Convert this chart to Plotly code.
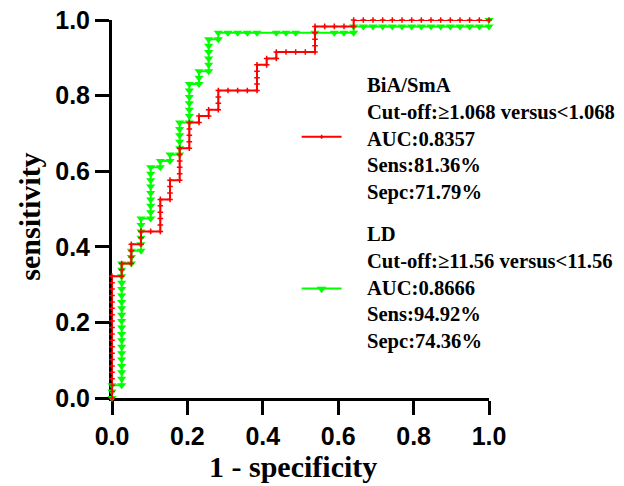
import plotly.graph_objects as go

# ---- data (counts) ----
N_NEG = 39   # negatives (x steps)
N_POS = 59   # positives (y steps)

red_fp = [0, 0, 0, 0, 0, 0, 0, 0, 0, 0, 0, 0, 0, 0, 0, 0, 0, 0, 0, 0,
          1, 1, 1, 2, 2, 2, 2, 3, 3, 3, 4,
          5, 5, 5, 5, 5, 5, 6, 6, 6, 6, 7, 7, 7, 7, 7, 7,
          8, 8, 8, 8, 8, 9, 9, 10, 10, 11, 11, 11, 11,
          12, 13, 14, 15, 15, 15, 15, 15, 16, 16, 17, 17,
          18, 19, 20, 21, 21, 21, 21, 21, 22, 23, 24, 25, 25,
          26, 27, 28, 29, 30, 31, 32, 33, 34, 35, 36, 37, 38, 39]
red_tp = [0, 1, 2, 3, 4, 5, 6, 7, 8, 9, 10, 11, 12, 13, 14, 15, 16, 17, 18, 19,
          19, 20, 21, 21, 22, 23, 24, 24, 25, 26, 26,
          26, 27, 28, 29, 30, 31, 31, 32, 33, 34, 34, 35, 36, 37, 38, 39,
          39, 40, 41, 42, 43, 43, 44, 44, 45, 45, 46, 47, 48,
          48, 48, 48, 48, 49, 50, 51, 52, 52, 53, 53, 54,
          54, 54, 54, 54, 55, 56, 57, 58, 58, 58, 58, 58, 59,
          59, 59, 59, 59, 59, 59, 59, 59, 59, 59, 59, 59, 59, 59]

green_fp = [0, 0, 0,
            1, 1, 1, 1, 1, 1, 1, 1, 1, 1, 1, 1, 1, 1, 1, 1, 1, 1, 1, 1,
            2, 2, 2, 3, 3, 3, 3, 3, 3,
            4, 4, 4, 4, 4, 4, 4, 4, 4, 5, 5, 6, 6,
            7, 7, 7, 7, 7, 7, 8, 8, 8, 8, 8, 8, 8,
            9, 9, 9, 10, 10, 10, 10, 10, 10, 11, 11,
            12, 13, 14, 15, 17, 18, 19, 21, 23, 24, 25, 25,
            26, 27, 28, 29, 30, 31, 32, 33, 34, 35, 36, 37, 38, 39, 39]
green_tp = [0, 1, 2,
            2, 3, 4, 5, 6, 7, 8, 9, 10, 11, 12, 13, 14, 15, 16, 17, 18, 19, 20, 21,
            21, 22, 23, 23, 24, 25, 26, 27, 28,
            28, 29, 30, 31, 32, 33, 34, 35, 36, 36, 37, 37, 38,
            38, 39, 40, 41, 42, 43, 43, 44, 45, 46, 47, 48, 49,
            49, 50, 51, 51, 52, 53, 54, 55, 56, 56, 57,
            57, 57, 57, 57, 57, 57, 57, 57, 57, 57, 57, 58,
            58, 58, 58, 58, 58, 58, 58, 58, 58, 58, 58, 58, 58, 58, 59]

tick_vals = [0.0, 0.2, 0.4, 0.6, 0.8, 1.0]
tick_text = ["0.0", "0.2", "0.4", "0.6", "0.8", "1.0"]

x_title = "1 - specificity"
y_title = "sensitivity"

red_name = "BiA/SmA"
red_info = ["Cut-off:≥1.068 versus&lt;1.068", "AUC:0.8357", "Sens:81.36%", "Sepc:71.79%"]
green_name = "LD"
green_info = ["Cut-off:≥11.56 versus&lt;11.56", "AUC:0.8666", "Sens:94.92%", "Sepc:74.36%"]

RED = "#FF0000"
GREEN = "#00FF00"
SERIF = "Times New Roman, Liberation Serif, serif"
SANS = "Arial, Liberation Sans, sans-serif"

fig = go.Figure()
fig.add_trace(go.Scatter(
    x=[v / N_NEG for v in green_fp], y=[v / N_POS for v in green_tp],
    mode="lines+markers", cliponaxis=False,
    line=dict(color=GREEN, width=2),
    marker=dict(symbol="triangle-down", size=8, color=GREEN),
))
fig.add_trace(go.Scatter(
    x=[v / N_NEG for v in red_fp], y=[v / N_POS for v in red_tp],
    mode="lines+markers", cliponaxis=False,
    line=dict(color=RED, width=2),
    marker=dict(symbol="cross-thin", size=4, color=RED, line=dict(color=RED, width=1.5)),
))

axis_common = dict(
    range=[0, 1], showline=True, linecolor="black", linewidth=3,
    ticks="outside", ticklen=14, tickwidth=3, tickcolor="black",
    tickvals=tick_vals, ticktext=tick_text,
    tickfont=dict(family=SANS, size=25, color="black", weight="bold"),
    showgrid=False, zeroline=False, layer="below traces", fixedrange=True,
    automargin=False, ticklabeloverflow="allow",
)
fig.update_xaxes(**axis_common)
fig.update_yaxes(**axis_common)

title_font = dict(family=SERIF, size=30, color="black", weight="bold")
fig.add_annotation(x=0.48, y=-0.1825, xref="paper", yref="paper", xanchor="center",
                   yanchor="middle", showarrow=False, text=x_title, font=title_font)
fig.add_annotation(x=-0.2175, y=0.4796, xref="paper", yref="paper", xanchor="center",
                   yanchor="middle", showarrow=False, text=y_title, textangle=-90,
                   font=title_font)

# legend block: text annotations + key glyphs (paper coordinates)
legend_font = dict(family=SERIF, size=20.6, color="black", weight="bold")
for name, info, ymid in [(red_name, red_info, 0.6865), (green_name, green_info, 0.2897)]:
    fig.add_annotation(x=0.671, y=ymid, xref="paper", yref="paper",
                       xanchor="left", yanchor="middle", align="left", showarrow=False,
                       text="<br>".join([name] + info), font=legend_font)

fig.add_shape(type="line", xref="paper", yref="paper", x0=0.503, x1=0.609, y0=0.691, y1=0.691,
              line=dict(color=RED, width=2))
fig.add_shape(type="line", xref="paper", yref="paper", x0=0.503, x1=0.609, y0=0.290, y1=0.290,
              line=dict(color=GREEN, width=2))
fig.add_shape(type="path", xref="paper", yref="paper", xsizemode="pixel", ysizemode="pixel",
              xanchor=0.556, yanchor=0.691, path="M-2,0 L2,0 M0,-2 L0,2",
              line=dict(color=RED, width=1.5))
fig.add_shape(type="path", xref="paper", yref="paper", xsizemode="pixel", ysizemode="pixel",
              xanchor=0.556, yanchor=0.290, path="M-4.5,1.5 L4.5,1.5 L0,-4.5 Z",
              fillcolor=GREEN, line=dict(color=GREEN, width=0.5))

fig.update_layout(
    width=624, height=486,
    margin=dict(l=112, r=135, t=20, b=88),
    paper_bgcolor="white", plot_bgcolor="white",
    showlegend=False,
)

# remove the browser's default 8px body margin so the figure fills the window exactly
fig.write_html("out.html", config={"displayModeBar": False},
               post_script="document.body.style.margin='0px';")
